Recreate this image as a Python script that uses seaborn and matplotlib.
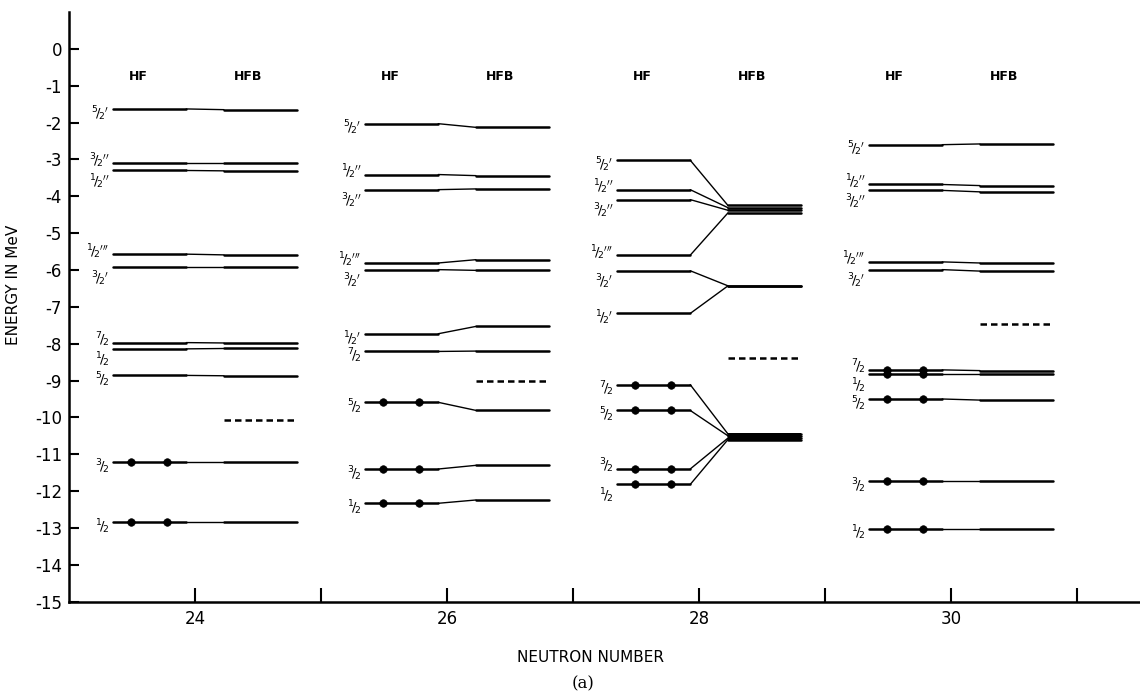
import numpy as np
import pandas as pd
import matplotlib
matplotlib.use("Agg")
import matplotlib.pyplot as plt
from matplotlib.ticker import FixedLocator
import seaborn as sns

# ---------------- data ----------------
NEUTRON_NUMBERS = [24, 26, 28, 30]

LABELS_24 = ["5/2'", "3/2''", "1/2''", "1/2'''", "3/2'", "7/2", "1/2", "5/2", "3/2", "1/2"]
HF_24 = [-1.63, -3.11, -3.30, -5.57, -5.93, -7.97, -8.14, -8.86, -11.21, -12.84]
HFB_24 = [-1.65, -3.11, -3.31, -5.59, -5.93, -7.98, -8.13, -8.87, -11.21, -12.84]
OCC_24 = [0, 0, 0, 0, 0, 0, 0, 0, 1, 1]
FERMI_24 = -10.07

LABELS_26 = ["5/2'", "1/2''", "3/2''", "1/2'''", "3/2'", "1/2'", "7/2", "5/2", "3/2", "1/2"]
HF_26 = [-2.03, -3.41, -3.82, -5.81, -5.99, -7.73, -8.21, -9.59, -11.40, -12.33]
HFB_26 = [-2.13, -3.44, -3.80, -5.72, -6.01, -7.53, -8.20, -9.81, -11.30, -12.24]
OCC_26 = [0, 0, 0, 0, 0, 0, 0, 1, 1, 1]
FERMI_26 = -9.02

LABELS_28 = ["5/2'", "1/2''", "3/2''", "1/2'''", "3/2'", "1/2'", "7/2", "5/2", "3/2", "1/2"]
HF_28 = [-3.02, -3.82, -4.09, -5.60, -6.02, -7.18, -9.11, -9.81, -11.40, -11.82]
HFB_28 = [-4.25, -4.31, -4.38, -4.45, -6.43, -6.43, -10.45, -10.50, -10.56, -10.60]
OCC_28 = [0, 0, 0, 0, 0, 0, 1, 1, 1, 1]
FERMI_28 = -8.39
BAND_28 = (-10.41, -10.64)

LABELS_30 = ["5/2'", "1/2''", "3/2''", "1/2'''", "3/2'", "7/2", "1/2", "5/2", "3/2", "1/2"]
HF_30 = [-2.60, -3.68, -3.84, -5.78, -5.99, -8.71, -8.83, -9.50, -11.73, -13.02]
HFB_30 = [-2.58, -3.71, -3.88, -5.81, -6.03, -8.73, -8.83, -9.53, -11.73, -13.02]
OCC_30 = [0, 0, 0, 0, 0, 1, 1, 1, 1, 1]
FERMI_30 = -7.46

Y_TICKS = list(range(0, -16, -1))
X_MAJOR = [24, 26, 28, 30]
X_MINOR = [25, 27, 29, 31]

# ---------------- layout (offsets relative to neutron number) ----------------
HF0, HF1 = -0.65, -0.07
HFB0, HFB1 = 0.23, 0.81
DOTS = (-0.51, -0.22)
HF_TITLE_X, HFB_TITLE_X = -0.45, 0.42

groups = {
    24: (LABELS_24, HF_24, HFB_24, OCC_24, FERMI_24, None),
    26: (LABELS_26, HF_26, HFB_26, OCC_26, FERMI_26, None),
    28: (LABELS_28, HF_28, HFB_28, OCC_28, FERMI_28, BAND_28),
    30: (LABELS_30, HF_30, HFB_30, OCC_30, FERMI_30, None),
}

flat_rows, conn_rows, dot_rows, fermi_rows = [], [], [], []
for n in NEUTRON_NUMBERS:
    labels, hf, hfb, occ, fermi, band = groups[n]
    for i, (eh, eb) in enumerate(zip(hf, hfb)):
        flat_rows += [dict(x=n + HF0, energy=eh, unit=f"{n}-{i}-hf"),
                      dict(x=n + HF1, energy=eh, unit=f"{n}-{i}-hf"),
                      dict(x=n + HFB0, energy=eb, unit=f"{n}-{i}-hfb"),
                      dict(x=n + HFB1, energy=eb, unit=f"{n}-{i}-hfb")]
        conn_rows += [dict(x=n + HF1, energy=eh, unit=f"{n}-{i}"),
                      dict(x=n + HFB0, energy=eb, unit=f"{n}-{i}")]
        if occ[i]:
            for d in DOTS:
                dot_rows.append(dict(x=n + d, energy=eh))
    fermi_rows += [dict(x=n + HFB0, energy=fermi, unit=str(n)),
                   dict(x=n + HFB1, energy=fermi, unit=str(n))]

flat = pd.DataFrame(flat_rows)
conn = pd.DataFrame(conn_rows)
dots = pd.DataFrame(dot_rows)
fermi_df = pd.DataFrame(fermi_rows)

# ---------------- figure ----------------
sns.set_theme(style="ticks")
plt.rcParams['font.family'] = ['DejaVu Sans']
plt.rcParams['axes.unicode_minus'] = False
plt.rcParams['mathtext.fontset'] = 'dejavusans'
plt.rcParams['text.color'] = 'black'
plt.rcParams['xtick.color'] = 'black'
plt.rcParams['ytick.color'] = 'black'
plt.rcParams['axes.edgecolor'] = 'black'

W, H = 1140, 693
fig = plt.figure(figsize=(W / 100, H / 100), dpi=100)
ax = fig.add_axes([69 / W, 1 - 601.7 / H, 1 - 69 / W, (601.7 - 12) / H])

sns.lineplot(data=flat, x='x', y='energy', units='unit', estimator=None, sort=False,
             color='black', lw=1.8, ax=ax, legend=False)
sns.lineplot(data=conn, x='x', y='energy', units='unit', estimator=None, sort=False,
             color='black', lw=1.0, ax=ax, legend=False)
sns.lineplot(data=fermi_df, x='x', y='energy', units='unit', estimator=None, sort=False,
             color='black', lw=1.8, ax=ax, legend=False, linestyle=(0, (2.6, 1.6)))
for n in NEUTRON_NUMBERS:
    band = groups[n][5]
    if band is not None:
        ax.fill_between([n + HFB0, n + HFB1], band[0], band[1], color='black', lw=0)
sns.scatterplot(data=dots, x='x', y='energy', color='black', s=30, ax=ax,
                legend=False, zorder=4, edgecolor='black')


def frac_label(s):
    base = s.rstrip("'")
    primes = len(s) - len(base)
    num, den = base.split('/')
    if primes:
        return r"${}^{%s}\!/_{\!%s}{}^{%s}$" % (num, den, r"\prime" * primes)
    return r"${}^{%s}\!/_{\!%s}$" % (num, den)


for n in NEUTRON_NUMBERS:
    labels, hf = groups[n][0], groups[n][1]
    for i, (lab, e) in enumerate(zip(labels, hf)):
        off = -0.12
        if i > 0 and hf[i - 1] - e < 0.45:
            off = -0.30
        elif i < len(hf) - 1 and e - hf[i + 1] < 0.45:
            off = 0.08
        ax.text(n + HF0 - 0.03, e + off, frac_label(lab), ha='right', va='center',
                fontsize=9.5, fontweight='bold', color='black')
    ax.text(n + HF_TITLE_X, -0.75, "HF", ha='center', va='center',
            fontsize=9, fontweight='bold')
    ax.text(n + HFB_TITLE_X, -0.75, "HFB", ha='center', va='center',
            fontsize=9, fontweight='bold')

ax.set_xlim(23.0, 31.5)
ax.set_ylim(-15, 1.0)
ax.set_yticks(Y_TICKS)
ax.set_yticklabels([str(t) for t in Y_TICKS])
ax.xaxis.set_major_locator(FixedLocator(X_MAJOR))
ax.xaxis.set_minor_locator(FixedLocator(X_MINOR))
ax.set_xticklabels([str(t) for t in X_MAJOR])
ax.tick_params(axis='y', direction='in', length=7, width=1.5, labelsize=12, pad=5)
ax.tick_params(axis='x', which='both', direction='in', length=10, width=1.5,
               labelsize=12, pad=6)
ax.set_xlabel("")
ax.set_ylabel("")
for side in ('top', 'right'):
    ax.spines[side].set_visible(False)
for side in ('left', 'bottom'):
    ax.spines[side].set_linewidth(1.8)
ax.set_facecolor('white')

fig.text(590 / W, 1 - 657 / H, "NEUTRON NUMBER", ha='center', va='center', fontsize=11)
fig.text(583 / W, 1 - 684 / H, "(a)", ha='center', va='center', fontsize=12,
         family='DejaVu Serif')
fig.text(14 / W, 1 - 285 / H, "ENERGY IN MeV", ha='center', va='center',
         rotation=90, fontsize=11)

fig.savefig("out.png", dpi=100, facecolor='white')
